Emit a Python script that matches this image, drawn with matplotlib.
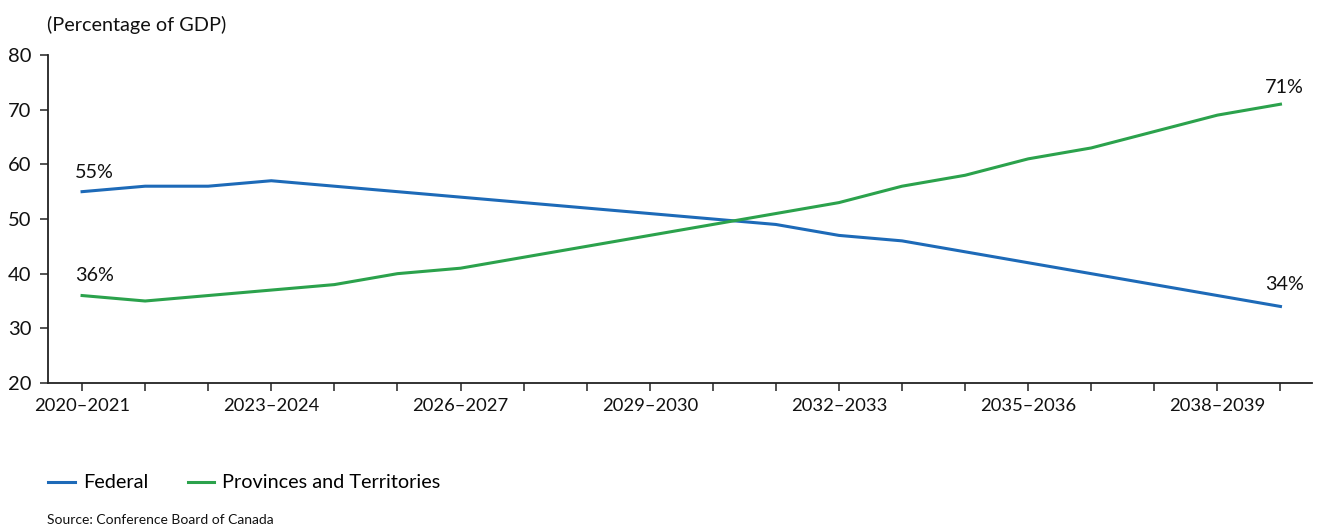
import matplotlib
matplotlib.use("Agg")
import matplotlib.pyplot as plt

periods = [f"{y}\u2013{y+1}" for y in range(2020, 2040)]
federal = [55, 56, 56, 57, 56, 55, 54, 53, 52, 51, 50, 49, 47, 46, 44, 42, 40, 38, 36, 34]
provinces = [36, 35, 36, 37, 38, 40, 41, 43, 45, 47, 49, 51, 53, 56, 58, 61, 63, 66, 69, 71]
series_names = ["Federal", "Provinces and Territories"]
y_ticks = [20, 30, 40, 50, 60, 70, 80]

BLUE = "#1d6ab8"
GREEN = "#2ba24c"
plt.rcParams['font.family'] = ['Lato', 'DejaVu Sans']

fig = plt.figure(figsize=(13.17, 5.31), dpi=100)
ax = fig.add_axes([48/1317, 1-383/531, (1312-48)/1317, (383-55)/531])

x = list(range(len(periods)))
ax.plot(x, federal, color=BLUE, lw=2.2, label=series_names[0])
ax.plot(x, provinces, color=GREEN, lw=2.2, label=series_names[1])

ax.set_xlim(-0.54, 19.5)
ax.set_ylim(20, 80)
ax.set_yticks(y_ticks)
ax.set_xticks(x)
ax.set_xticklabels([p if i % 3 == 0 else "" for i, p in enumerate(periods)])
for s in ["top", "right"]:
    ax.spines[s].set_visible(False)
for s in ["left", "bottom"]:
    ax.spines[s].set_linewidth(1.3)
    ax.spines[s].set_color("#222222")
ax.tick_params(axis="both", direction="out", length=6, width=1.3, color="#444444",
               labelcolor="#111111")
ax.tick_params(axis="x", labelsize=13.2, pad=5)
ax.tick_params(axis="y", labelsize=14.5, pad=6)

fs = 14.2
ax.annotate(f"{federal[0]}%", (x[0], federal[0]), xytext=(-5, 8), textcoords="offset points",
            ha="left", va="bottom", fontsize=fs, color="#111111")
ax.annotate(f"{provinces[0]}%", (x[0], provinces[0]), xytext=(-5, 8), textcoords="offset points",
            ha="left", va="bottom", fontsize=fs, color="#111111")
ax.annotate(f"{provinces[-1]}%", (x[-1], provinces[-1]), xytext=(17, 6), textcoords="offset points",
            ha="right", va="bottom", fontsize=fs, color="#111111")
ax.annotate(f"{federal[-1]}%", (x[-1], federal[-1]), xytext=(17, 10), textcoords="offset points",
            ha="right", va="bottom", fontsize=fs, color="#111111")

fig.text(47/1317, 1-25/531, "(Percentage of GDP)", fontsize=14.3, va="center", ha="left", color="#111111")

leg = fig.legend(loc="center left", bbox_to_anchor=(30/1317, 1-483/531), ncol=2, frameon=False,
                 fontsize=14.3, handlelength=1.35, handletextpad=0.4, columnspacing=2.0)
fig.text(47/1317, 1-520/531, "Source: Conference Board of Canada", fontsize=10, va="center",
         ha="left", color="#111111")

fig.savefig("out.png", dpi=100)
